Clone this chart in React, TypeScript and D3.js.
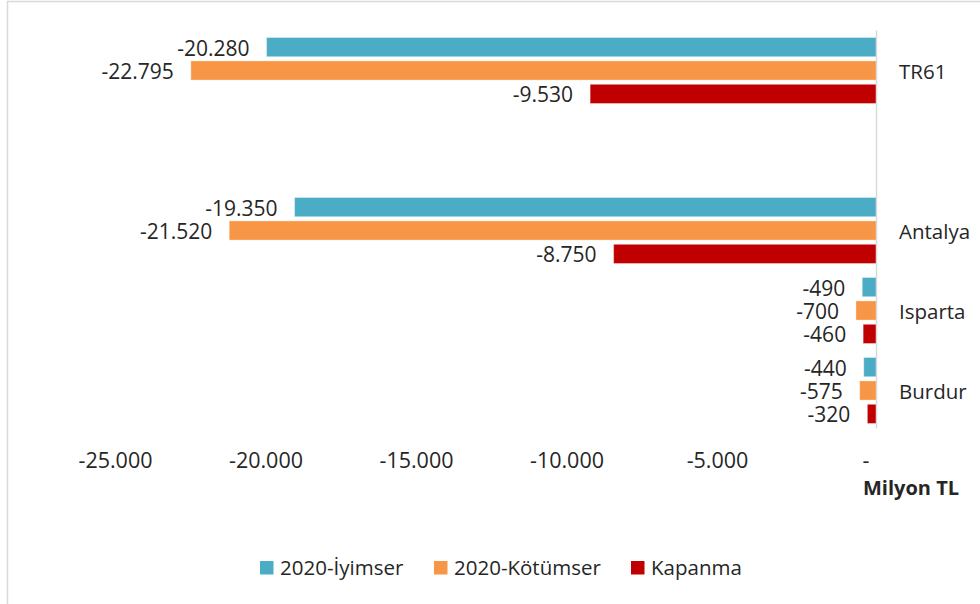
import React from "react";
import * as d3 from "d3";

const categories = ["TR61", "", "Antalya", "Isparta", "Burdur"];
const seriesNames = ["2020-İyimser", "2020-Kötümser", "Kapanma"];
const iyimser = [-20280, null, -19350, -490, -440];
const kotumser = [-22795, null, -21520, -700, -575];
const kapanma = [-9530, null, -8750, -460, -320];
const xTicks = [-25000, -20000, -15000, -10000, -5000, 0];
const colors = ["#4BACC6", "#F79646", "#C00000"];

const W = 980;
const H = 604;
const FONT = "'Open Sans', 'DejaVu Sans', sans-serif";
const TEXT = "#262626";

const tr = d3.formatLocale({ decimal: ",", thousands: ".", grouping: [3], currency: ["", ""], minus: "-" });
const fmt = (v: number) => (v === 0 ? "-" : tr.format(",.0f")(v));

export default function App() {
  const x = d3.scaleLinear().domain([-25000, 0]).range([124.5, 877]);
  const y0 = d3
    .scaleBand<string>()
    .domain(categories.map((c, i) => String(i)))
    .range([30.5, 430.5])
    .padding(0);
  const y1 = d3
    .scaleBand<string>()
    .domain(seriesNames)
    .range([0, y0.bandwidth()])
    .paddingInner(0.18)
    .paddingOuter(0.3);

  const series = [iyimser, kotumser, kapanma];

  // legend layout
  const legendX = [260, 434, 631];

  return (
    <svg width={W} height={H} style={{ position: "absolute", left: 0, top: 0, background: "#fff" }} fontFamily={FONT}>
      <rect x={7.5} y={1.5} width={W} height={H} fill="#fff" stroke="#d9d9d9" strokeWidth={1.5} />

      {series.map((vals, si) =>
        vals.map((v, ci) => {
          if (v == null) return null;
          const top = (y0(String(ci)) as number) + (y1(seriesNames[si]) as number);
          const bh = y1.bandwidth();
          const x0 = x(v);
          return (
            <g key={`${si}-${ci}`}>
              <rect
                x={x0}
                y={top}
                width={x(0) - x0}
                height={bh}
                fill={colors[si]}
                stroke="#fff"
                strokeOpacity={0.35}
                strokeWidth={1}
              />
              <text x={x0 - 17} y={top + bh / 2 + 8.5} textAnchor="end" fontSize={21} fill={TEXT}>
                {fmt(v)}
              </text>
            </g>
          );
        })
      )}

      {/* vertical axis */}
      <line x1={876.5} x2={876.5} y1={y0.range()[0]} y2={y0.range()[1] - 2} stroke="#d9d9d9" strokeWidth={1.5} />

      {categories.map((c, i) =>
        c ? (
          <text
            key={c}
            x={899}
            y={(y0(String(i)) as number) + y0.bandwidth() / 2 + 8}
            fontSize={20.5}
            fill={TEXT}
          >
            {c}
          </text>
        ) : null
      )}

      {xTicks.map((t) => (
        <text key={t} x={x(t) - (t === 0 ? 11 : 9)} y={468} textAnchor="middle" fontSize={21.5} fill={TEXT}>
          {fmt(t)}
        </text>
      ))}

      <text x={863} y={495} fontSize={20} fontWeight="bold" fill={TEXT}>
        Milyon TL
      </text>

      {seriesNames.map((s, i) => (
        <g key={s}>
          <rect x={legendX[i]} y={561} width={13.5} height={13.5} fill={colors[i]} />
          <text x={legendX[i] + 20} y={575} fontSize={20.5} fill={TEXT}>
            {s}
          </text>
        </g>
      ))}
    </svg>
  );
}
